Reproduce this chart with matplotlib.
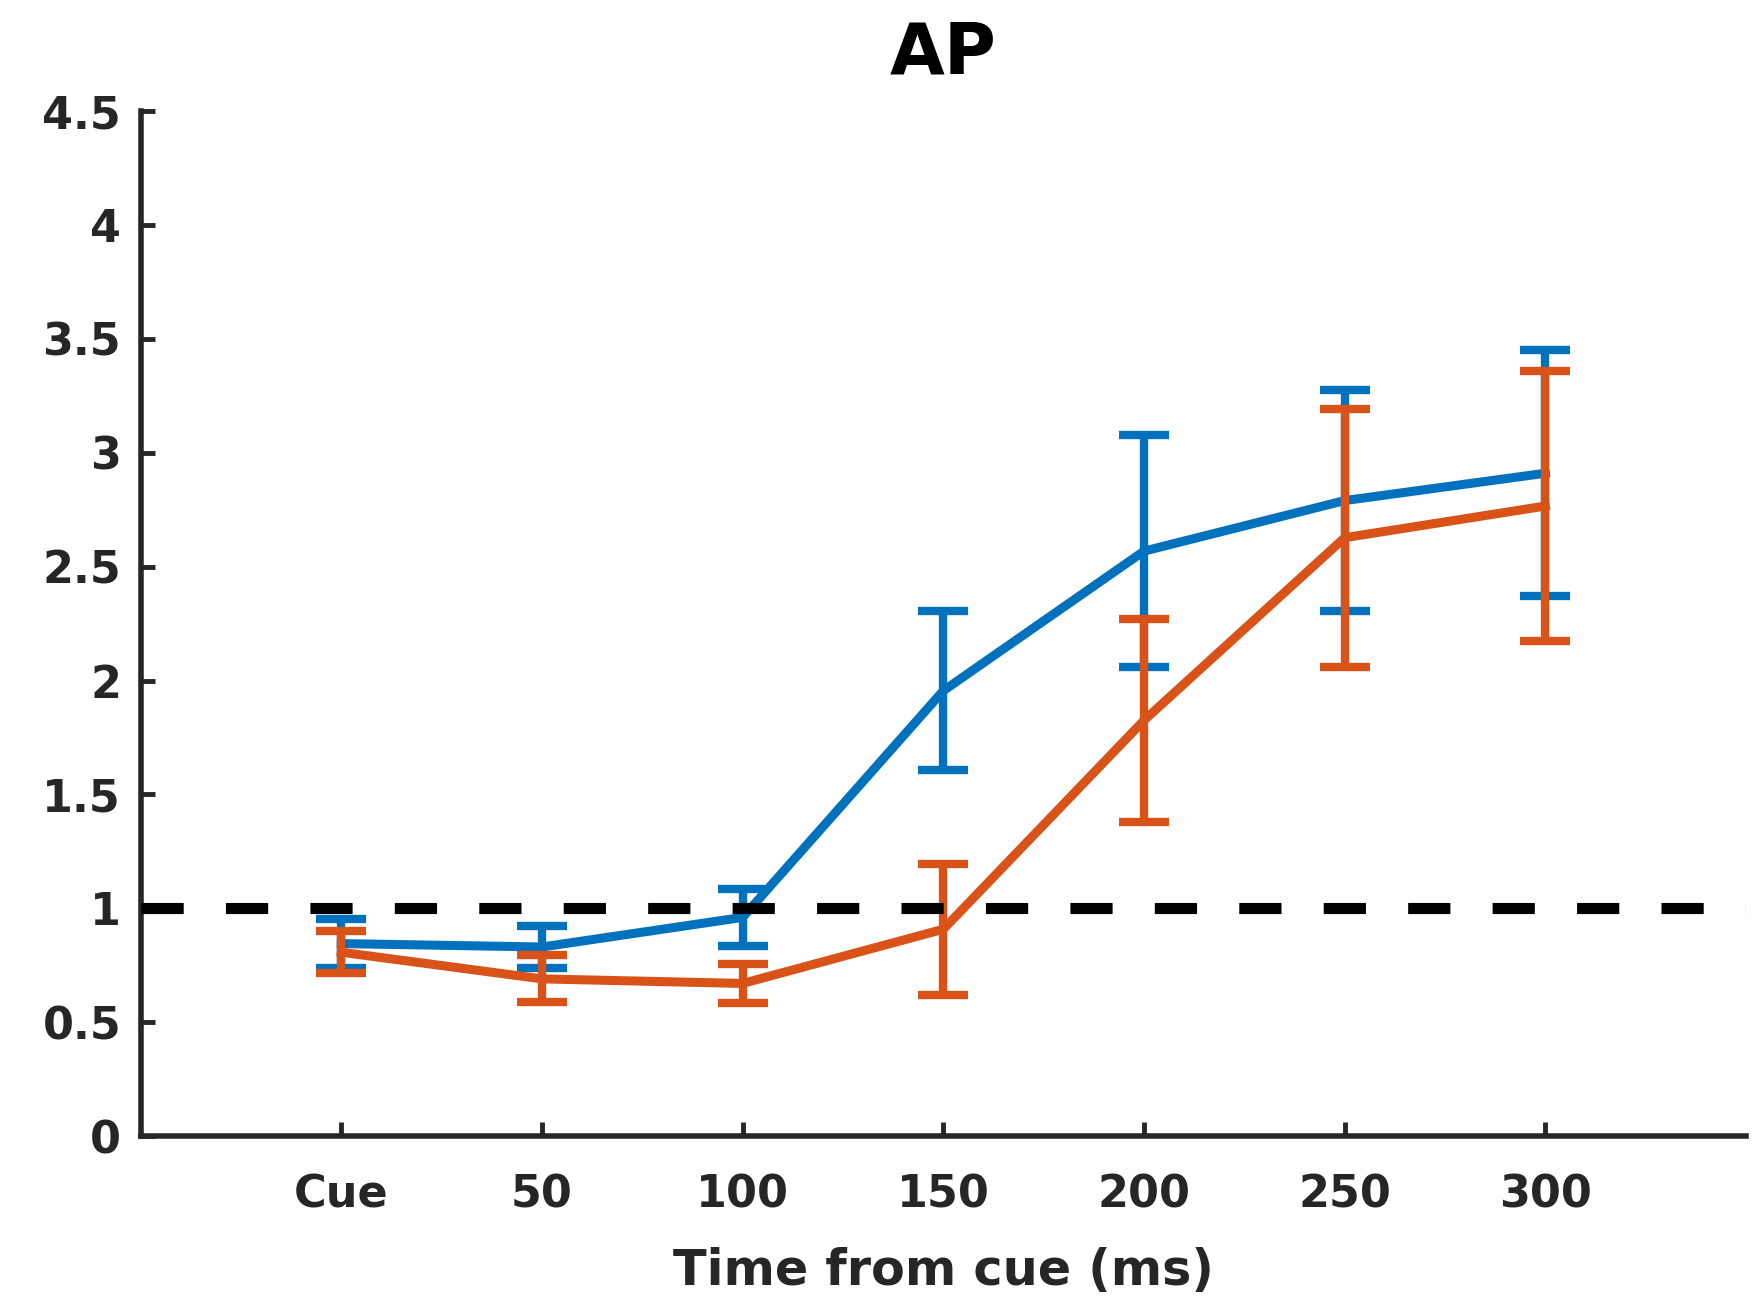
import numpy as np
import matplotlib.pyplot as plt

# time bins after cue (ms); first bin is the cue itself
times = [0, 50, 100, 150, 200, 250, 300]
tick_labels = ['Cue', '50', '100', '150', '200', '250', '300']

# condition 1 (blue): mean and sem
blue_mean = [0.845, 0.83, 0.96, 1.955, 2.568, 2.79, 2.91]
blue_sem = [0.108, 0.091, 0.125, 0.35, 0.51, 0.485, 0.54]

# condition 2 (orange): mean and sem
orange_mean = [0.807, 0.69, 0.67, 0.908, 1.825, 2.627, 2.766]
orange_sem = [0.093, 0.103, 0.084, 0.287, 0.445, 0.567, 0.592]

blue = '#0072BD'
orange = '#D95319'
axcol = '#262626'

plt.rcParams['font.family'] = 'DejaVu Sans'
plt.rcParams['font.weight'] = 'bold'

fig = plt.figure(figsize=(17.64, 13.07), dpi=100)
ax = fig.add_axes([0.0797, 0.1308, 0.9101, 0.7842])

ax.errorbar(times, blue_mean, yerr=blue_sem, color=blue, lw=6.5,
            elinewidth=6, capsize=18, capthick=6, zorder=3)
ax.errorbar(times, orange_mean, yerr=orange_sem, color=orange, lw=6.5,
            elinewidth=6, capsize=18, capthick=6, zorder=4)
ax.axhline(1, color='black', lw=8, linestyle=(0, (3.8, 3.8)), zorder=5)

ax.set_xlim(-50, 350)
ax.set_ylim(0, 4.5)
ax.set_xticks(times)
ax.set_xticklabels(tick_labels)
ax.set_yticks(np.arange(0, 4.51, 0.5))
ax.set_yticklabels(['0', '0.5', '1', '1.5', '2', '2.5', '3', '3.5', '4', '4.5'])

for s in ['top', 'right']:
    ax.spines[s].set_visible(False)
for s in ['left', 'bottom']:
    ax.spines[s].set_linewidth(4)
    ax.spines[s].set_color(axcol)

ax.tick_params(axis='both', direction='in', length=10, width=3.5,
               color=axcol, labelcolor=axcol, labelsize=32)
ax.tick_params(axis='x', pad=27)
ax.tick_params(axis='y', pad=14)

ax.set_xlabel('Time from cue (ms)', fontsize=35.5, fontweight='bold',
              color=axcol, labelpad=22)
ax.set_title('AP', fontsize=51, fontweight='bold', color='black', pad=27)

fig.savefig('out.png', dpi=100)
